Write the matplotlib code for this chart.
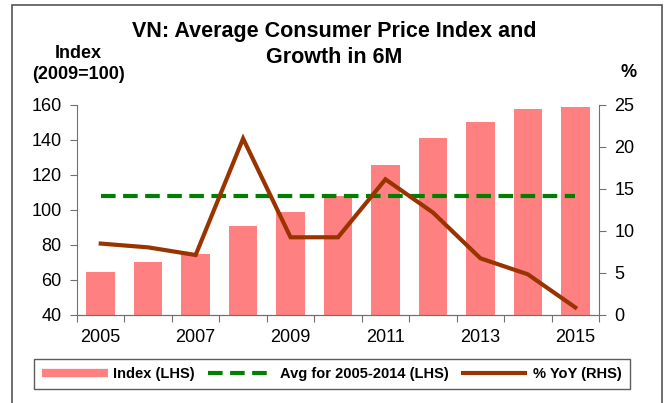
import matplotlib.pyplot as plt
from matplotlib.lines import Line2D
from matplotlib.patches import Rectangle

plt.rcParams['font.family'] = ['Liberation Sans', 'DejaVu Sans']

years = list(range(2005, 2016))
index_vals = [64.8, 70.1, 74.9, 90.9, 99.0, 108.0, 125.5, 141.0, 150.3, 157.5, 158.9]
yoy_vals = [8.5, 8.05, 7.14, 21.0, 9.25, 9.25, 16.15, 12.2, 6.75, 4.84, 0.9]
avg_val = sum(index_vals[:10]) / 10  # average 2005-2014

BAR_COLOR = '#FF8080'
YOY_COLOR = '#993300'
AVG_COLOR = '#008000'
SPINE = '#707070'
TICK_FS = 13

fig = plt.figure(figsize=(6.69, 4.03), dpi=100)
ax = fig.add_axes([0.1151, 0.2184, 0.7803, 0.5211])
ax2 = ax.twinx()

x = list(range(len(years)))
ax.bar(x, index_vals, width=0.6, color=BAR_COLOR, zorder=2)
ax.plot([x[0], x[-1]], [avg_val, avg_val], color=AVG_COLOR, lw=3,
        dashes=(3.5, 1.8), zorder=3)
ax2.plot(x, yoy_vals, color=YOY_COLOR, lw=3, solid_joinstyle='miter', zorder=4)

ax.set_xlim(-0.5, len(years) - 0.5)
ax.set_ylim(40, 160)
ax.set_yticks(range(40, 161, 20))
ax2.set_ylim(0, 25)
ax2.set_yticks(range(0, 26, 5))

# ticks at category boundaries, labels every other year
ax.set_xticks([i - 0.5 for i in range(len(years) + 1)])
ax.set_xticklabels([])
ax.set_xticks(x[::2], minor=True)
ax.set_xticklabels([str(y) for y in years[::2]], minor=True)
ax.tick_params(axis='x', which='minor', length=0, pad=10, labelsize=TICK_FS)
ax.tick_params(axis='x', which='major', length=5, color=SPINE)

for a in (ax, ax2):
    a.spines['top'].set_visible(False)
    for s in a.spines.values():
        s.set_color(SPINE)
    a.tick_params(axis='y', length=5, color=SPINE, labelsize=TICK_FS, pad=6)
ax2.spines['left'].set_visible(False)
ax.spines['right'].set_visible(False)

fig.text(0.5, 0.923, 'VN: Average Consumer Price Index and', ha='center', va='center',
         fontsize=15.5, fontweight='bold')
fig.text(0.5, 0.858, 'Growth in 6M', ha='center', va='center',
         fontsize=15.5, fontweight='bold')
fig.text(0.117, 0.868, 'Index', ha='center', va='center', fontsize=13, fontweight='bold')
fig.text(0.117, 0.816, '(2009=100)', ha='center', va='center', fontsize=13, fontweight='bold')
fig.text(0.939, 0.821, '%', ha='center', va='center', fontsize=13, fontweight='bold')

handles = [
    Line2D([], [], color=BAR_COLOR, lw=6, solid_capstyle='butt'),
    Line2D([], [], color=AVG_COLOR, lw=3, dashes=(3.5, 1.8)),
    Line2D([], [], color=YOY_COLOR, lw=3, solid_capstyle='butt'),
]
labels = ['Index (LHS)', 'Avg for 2005-2014 (LHS)', '% YoY (RHS)']
leg = fig.legend(handles, labels, loc='center', bbox_to_anchor=(0.496, 0.072), ncol=3,
                 frameon=True, fancybox=False, edgecolor='#333333', handlelength=4.5,
                 columnspacing=0.9, handletextpad=0.4, borderpad=0.55,
                 prop={'weight': 'bold', 'size': 10.5})
leg.get_frame().set_linewidth(1.0)

fig.patches.append(Rectangle((12 / 669, -0.1), 650 / 669, 1.1 - 5 / 403,
                             transform=fig.transFigure, fill=False,
                             edgecolor='#555555', lw=1.2))

fig.savefig('out.png', dpi=100)
